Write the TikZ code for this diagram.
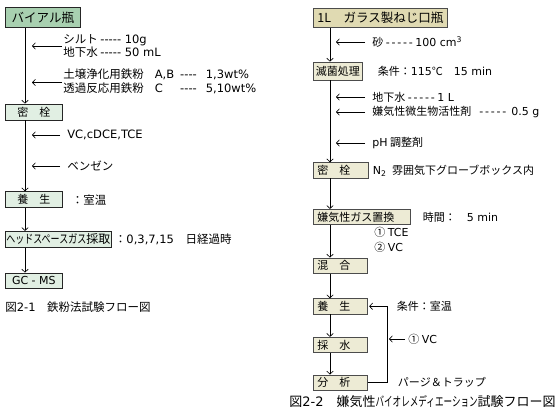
\documentclass[tikz,border=0pt]{standalone}
\usepackage{fontspec,graphicx}
\newfontfamily\jpfont{Noto Sans CJK JP}
\newfontfamily\latfont{DejaVu Sans}
\newcommand\lt[1]{{\latfont #1}}
\newcommand\rdash{{\latfont-\kern1.8pt-\kern1.8pt-\kern1.8pt-\kern1.8pt-}}
\usetikzlibrary{arrows.meta,positioning,shadows}
\definecolor{vialgreen}{HTML}{A8D0B0}
\definecolor{palegreen}{HTML}{E1EFE3}
\definecolor{khaki}{HTML}{E0DAB2}
\definecolor{palekhaki}{HTML}{EDEBD5}

\begin{document}
\begin{tikzpicture}[x=1pt, y=-1pt, line width=0.65pt, >={Straight Barb[length=3pt,width=6.5pt]},
  every node/.style={font=\jpfont\fontsize{11}{13}\selectfont},
  gbox/.style={draw=black!85,fill=palegreen,anchor=north west,inner sep=0pt,minimum height=16pt,minimum width=57pt},
  kbox/.style={draw=black!70,fill=palekhaki,anchor=north west,inner ysep=0pt,inner xsep=4pt,minimum height=15.5pt,text width=#1,align=left,
    drop shadow={opacity=1,fill=black!85,shadow xshift=0.7pt,shadow yshift=-0.7pt}},
  lbl/.style={anchor=west,inner sep=0pt,align=left}]
\path[use as bounding box,fill=white] (0,0) rectangle (560,420);
\coordinate (lTip) at (32,0); \coordinate (rTip) at (336,0); \coordinate (fbTip) at (389,0);

% 図2-1
\node[gbox,fill=vialgreen,minimum width=75pt,minimum height=20pt,font=\jpfont\fontsize{12.5}{14}\selectfont] (vial) at (5,7) {バイアル瓶};
\node[gbox,below=76pt of vial.south west,anchor=north west] (seal) {密　栓};
\node[gbox,below=71pt of seal.south west,anchor=north west] (cure) {養　生};
\node[gbox,below=23pt of cure.south west,anchor=north west,minimum width=106pt,font=\jpfont\fontsize{12}{14}\selectfont] (hs) {\scalebox{0.75}[1]{ヘッドスペースガス}採取};
\node[gbox,below=25pt of hs.south west,anchor=north west,minimum height=15pt] (gcms) {\lt{GC - MS}};
\draw[->] ([xshift=20pt]vial.south west)--([xshift=20pt]seal.north west); \draw[->] ([xshift=20pt]seal.south west)--([xshift=20pt]cure.north west);
\draw[->] ([xshift=20pt]cure.south west)--([xshift=20pt]hs.north west); \draw[->] ([xshift=20pt]hs.south west)--([xshift=20pt]gcms.north west);

\begin{scope}[every node/.style={font=\jpfont\fontsize{11.5}{13}\selectfont}]
\node[lbl] (silt) at (63,46) {シルト \lt{----- 10g}\\地下水 \lt{----- 50 mL}};
\node[lbl] (iron) at (63,82.5) {\begin{tabular}{@{}l@{\hspace{11pt}}l@{\hspace{6pt}}l@{\hspace{9pt}}l@{}}
  土壌浄化用鉄粉 & \lt{A,B} & \lt{----} & \lt{1,3wt\%} \\ 透過反応用鉄粉 & \lt{C} & \lt{----} & \lt{5,10wt\%} \end{tabular}};
\node[lbl] (chem) at (67,135) {\lt{VC,cDCE,TCE}};
\node[lbl] (benz) at (67,166) {ベンゼン};
\node[lbl,right=9pt of cure] (roomL) {：室温};
\node[lbl,right=3pt of hs] (days) {：\lt{0,3,7,15}　日経過時};
\node[lbl] (cap1) at (5,307) {図\lt{2-1}　鉄粉法試験フロー図};
\end{scope}
\draw[->] ([xshift=-1pt]silt.west)--(silt.west-|lTip); \draw[->] ([xshift=-1pt]iron.west)--(iron.west-|lTip);
\draw[->] ([xshift=-7pt]chem.west)--(chem.west-|lTip); \draw[->] ([xshift=-7pt]benz.west)--(benz.west-|lTip);

% 図2-2
\node[kbox=126pt,fill=khaki,minimum height=19pt,font=\jpfont\fontsize{12.5}{14}\selectfont] (bottle) at (313,8) {1L　ガラス製ねじ口瓶};
\node[kbox=44pt,inner xsep=2.5pt,minimum height=18pt,below=34pt of bottle.south west,anchor=north west] (steril) {滅菌処理};
\node[kbox=47pt,below=82pt of steril.south west,anchor=north west] (seal2) {密　栓};
\node[kbox=89pt,below=30.5pt of seal2.south west,anchor=north west] (gas) {嫌気性ガス置換};
\node[kbox=46pt,below=32.5pt of gas.south west,anchor=north west] (mix) {混　合};
\node[kbox=46pt,below=24.5pt of mix.south west,anchor=north west] (cure2) {養　生};
\node[kbox=46pt,below=22.5pt of cure2.south west,anchor=north west] (water) {採　水};
\node[kbox=46pt,below=21.5pt of water.south west,anchor=north west] (anal) {分　析};
\draw[->] ([xshift=17pt]bottle.south west)--([xshift=17pt]steril.north west); \draw[->] ([xshift=17pt]steril.south west)--([xshift=17pt]seal2.north west);
\draw[->] ([xshift=17pt]seal2.south west)--([xshift=17pt]gas.north west); \draw[->] ([xshift=17pt]gas.south west)--([xshift=17pt]mix.north west);
\draw[->] ([xshift=17pt]mix.south west)--([xshift=17pt]cure2.north west); \draw[->] ([xshift=17pt]cure2.south west)--([xshift=17pt]water.north west);
\draw[->] ([xshift=17pt]water.south west)--([xshift=17pt]anal.north west);
\draw[->,shorten >=1.5pt] (anal.east)--++(20,0)|-(cure2.east);

\node[lbl] (sand) at (372,42) {砂 \rdash\ \lt{100 cm\textsuperscript{3}}};
\node[lbl,right=15pt of steril] (cond) {条件：\lt{115}℃　\lt{15 min}};
\node[lbl] (gw) at (372,97) {地下水 \rdash\ \lt{1 L}};
\node[lbl] (act) at (372,112) {嫌気性微生物活性剤\hspace{8pt}\rdash\hspace{5pt}\lt{0.5 g}};
\node[lbl] (ph) at (372,143) {\lt{pH} 調整剤};
\node[lbl,right=4pt of seal2] (n2) {\lt{N\textsubscript{2}}\hspace{3pt} 雰囲気下グローブボックス内};
\node[lbl,right=12pt of gas] (time) {時間：　\lt{5 min}};
\node[lbl] (tce) at (374,232) {① \lt{TCE}};
\node[lbl] (vcb) at (374,247) {② \lt{VC}};
\node[lbl,right=29pt of cure2] (cond2) {条件：室温};
\node[lbl] (vc) at (408,339) {① \lt{VC}};
\node[lbl,right=30pt of anal] (purge) {パージ＆トラップ};
\node[lbl,font=\jpfont\fontsize{13}{15}\selectfont] (cap2) at (289,402) {図\lt{2-2}　嫌気性\scalebox{0.66}[1]{バイオレメディエーション}試験フロー図};
\draw[->] ([xshift=-7pt]sand.west)--(sand.west-|rTip); \draw[->] ([xshift=-7pt]gw.west)--(gw.west-|rTip);
\draw[->] ([xshift=-7pt]act.west)--(act.west-|rTip); \draw[->] ([xshift=-7pt]ph.west)--(ph.west-|rTip);
\draw[->] ([xshift=-3pt]vc.west)--(vc.west-|fbTip);
\end{tikzpicture}
\end{document}
